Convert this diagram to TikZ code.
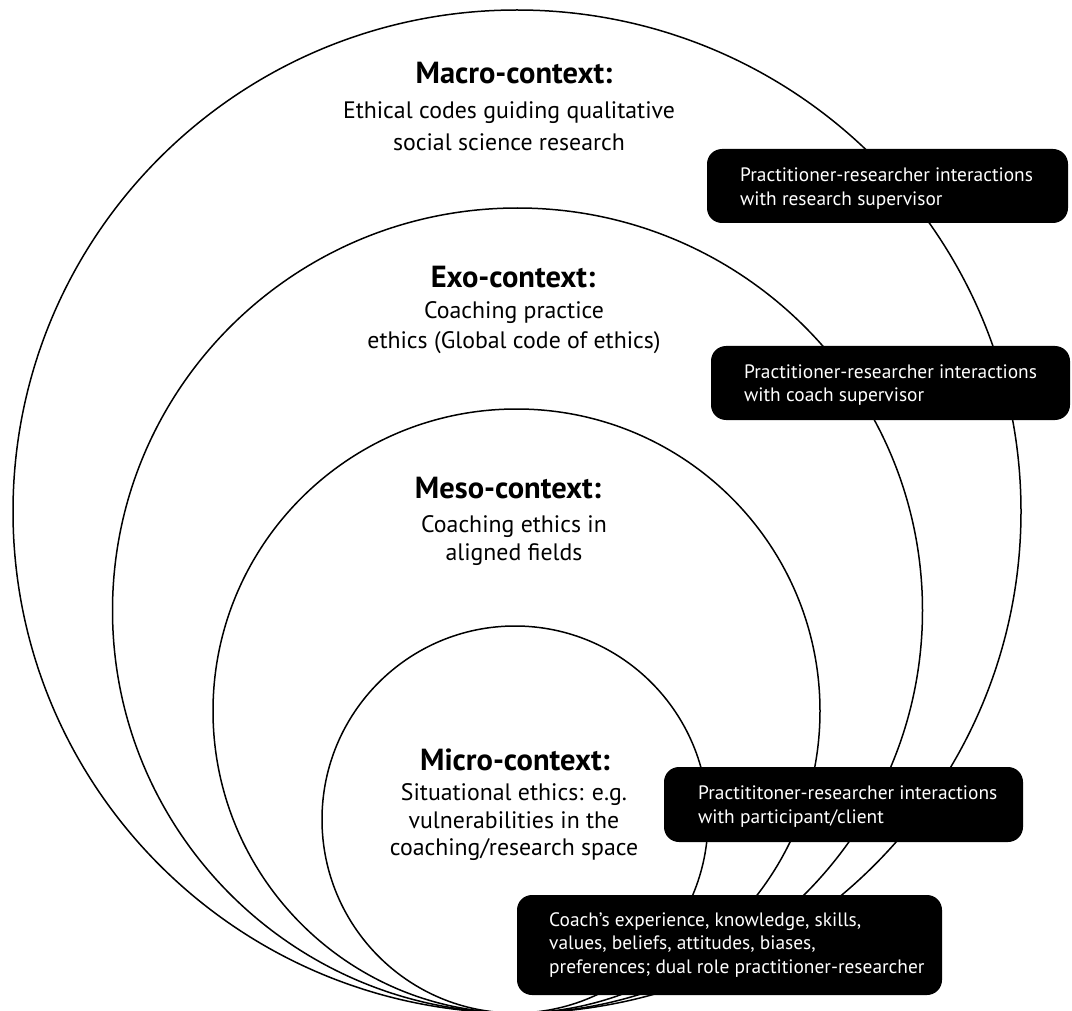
\documentclass[tikz,border=0pt]{standalone}
\usepackage{fontspec}
\setmainfont{PT Sans}
\begin{document}
\begin{tikzpicture}[x=1pt,y=-1pt,
  ring/.style={draw=black,line width=1.5pt},
  blackbox/.style={fill=black,draw=none,rounded corners=15pt,inner sep=0pt},
  boxtext/.style={text=white,anchor=west,align=left,inner sep=0pt,font=\fontsize{19.4}{23.5}\selectfont},
  heading/.style={inner sep=0pt,font=\fontsize{30.5}{34}\selectfont\bfseries},
  bodytext/.style={inner sep=0pt,align=center}]
\useasboundingbox (0,0) rectangle (1072,1011);
\fill[white] (0,0) rectangle (1072,1011);
\begin{scope}
\clip (0,0) rectangle (1072,1011);
\draw[ring] (517,511.5) ellipse [x radius=504pt, y radius=501.5pt];
\draw[ring] (517.5,610.5) ellipse [x radius=405pt, y radius=402.5pt];
\draw[ring] (516.5,711) ellipse [x radius=303.5pt, y radius=302pt];
\draw[ring] (515,819.5) ellipse [x radius=193pt, y radius=193.5pt];
\end{scope}
% headings and body texts
\node[heading] (macroh) at (514,73) {Macro-context:};
\node[bodytext,font=\fontsize{23.8}{32}\selectfont] (macrob) at (509,126) {Ethical codes guiding qualitative\\social science research};
\node[heading] (exoh) at (513,277) {Exo-context:};
\node[bodytext,font=\fontsize{23.8}{30}\selectfont] (exob) at (514,328) {Coaching practice\\ethics (Global code of ethics)};
\node[heading] (mesoh) at (508,488) {Meso-context:};
\node[bodytext,font=\fontsize{23.8}{28}\selectfont] (mesob) at (514,541) {Coaching ethics in\\aligned fields};
\node[heading] (microh) at (515,760) {Micro-context:};
\node[bodytext,font=\fontsize{23.8}{27.5}\selectfont] (microb) at (514,822.5) {Situational ethics: e.g.\\vulnerabilities in the\\coaching/research space};
% black boxes
\node[blackbox,minimum width=361pt,minimum height=74pt] (b1) at (887.5,186) {};
\node[boxtext] (t1) at (740,188.5) {Practitioner-researcher interactions\\with research supervisor};
\node[blackbox,minimum width=359pt,minimum height=74pt] (b2) at (890.5,383) {};
\node[boxtext] (t2) at (744,385) {Practitioner-researcher interactions\\with coach supervisor};
\node[blackbox,minimum width=359pt,minimum height=75pt] (b3) at (843.5,804.5) {};
\node[boxtext] (t3) at (698,806.5) {Practititoner-researcher interactions\\with participant/client};
\node[blackbox,minimum width=425pt,minimum height=100pt] (b4) at (729.5,945) {};
\node[boxtext] (t4) at (549,945) {Coach’s experience, knowledge, skills,\\values, beliefs, attitudes, biases,\\preferences; dual role practitioner-researcher};
\end{tikzpicture}
\end{document}
